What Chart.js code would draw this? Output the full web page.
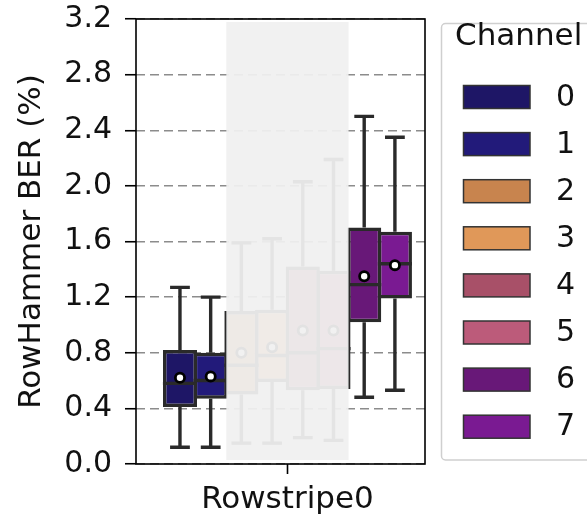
<!DOCTYPE html>
<html lang="en">
<head>
    <meta charset="UTF-8">
    <title>RowHammer BER per Channel</title>
    <script src="https://cdn.jsdelivr.net/npm/chart.js"></script>
    <style>
        body { margin: 0; background: #fff; }
        .chart-wrap { width: 587px; height: 519px; }
    </style>
</head>
<body>
    <div class="chart-wrap">
        <canvas id="berChart" width="587" height="519"></canvas>
    </div>
    <script>
        // values (BER in %)
        const categories = ['Rowstripe0'];
        const channels = ['0', '1', '2', '3', '4', '5', '6', '7'];
        const whiskerLow  = [0.12, 0.12, 0.15, 0.15, 0.19, 0.17, 0.48, 0.53];
        const q1          = [0.41, 0.47, 0.50, 0.59, 0.53, 0.54, 1.02, 1.19];
        const median      = [0.58, 0.60, 0.71, 0.78, 0.80, 0.83, 1.29, 1.44];
        const q3          = [0.82, 0.80, 1.10, 1.11, 1.42, 1.39, 1.70, 1.67];
        const whiskerHigh = [1.27, 1.20, 1.59, 1.62, 2.03, 2.19, 2.50, 2.35];
        const means       = [0.62, 0.63, 0.80, 0.84, 0.96, 0.96, 1.35, 1.43];
        const yTicks = [0, 0.4, 0.8, 1.2, 1.6, 2.0, 2.4, 2.8, 3.2];
        // channels greyed out by the shaded band
        const shadedChannels = ['2', '3', '4', '5'];

        const colors = ['#1e1666', '#221a7a', '#c8844e', '#e09859', '#a85068', '#bc5b7a', '#681878', '#7a1a92'];
        const edge = '#2a2a2a';
        const font = 'DejaVu Sans';

        const datasets = channels.map((ch, i) => ({
            label: ch,
            data: [{ x: 0, y: [q1[i], q3[i]] }],
            backgroundColor: colors[i],
            borderColor: edge,
            borderWidth: 3.5,
            borderSkipped: false,
            categoryPercentage: 0.85,
            barPercentage: 1.11
        }));

        // whiskers, medians, means, shaded band and the axes frame
        const boxExtras = {
            id: 'boxExtras',
            afterDatasetsDraw(chart) {
                const ctx = chart.ctx;
                const y = chart.scales.y;
                const area = chart.chartArea;
                ctx.save();
                channels.forEach((ch, i) => {
                    const bar = chart.getDatasetMeta(i).data[0];
                    const cx = bar.x, w = bar.width, cap = w * 0.29;
                    ctx.strokeStyle = edge;
                    ctx.lineWidth = 3.4;
                    ctx.beginPath();
                    ctx.moveTo(cx, y.getPixelForValue(q3[i]));
                    ctx.lineTo(cx, y.getPixelForValue(whiskerHigh[i]));
                    ctx.moveTo(cx, y.getPixelForValue(q1[i]));
                    ctx.lineTo(cx, y.getPixelForValue(whiskerLow[i]));
                    ctx.moveTo(cx - cap, y.getPixelForValue(whiskerHigh[i]));
                    ctx.lineTo(cx + cap, y.getPixelForValue(whiskerHigh[i]));
                    ctx.moveTo(cx - cap, y.getPixelForValue(whiskerLow[i]));
                    ctx.lineTo(cx + cap, y.getPixelForValue(whiskerLow[i]));
                    ctx.moveTo(cx - w / 2, y.getPixelForValue(median[i]));
                    ctx.lineTo(cx + w / 2, y.getPixelForValue(median[i]));
                    ctx.stroke();

                    ctx.beginPath();
                    ctx.arc(cx, y.getPixelForValue(means[i]), 4.6, 0, Math.PI * 2);
                    ctx.fillStyle = '#fff';
                    ctx.fill();
                    ctx.lineWidth = 2.8;
                    ctx.strokeStyle = '#000';
                    ctx.stroke();
                });

                // grey band over the shaded channels
                const first = chart.getDatasetMeta(channels.indexOf(shadedChannels[0])).data[0];
                const last = chart.getDatasetMeta(channels.indexOf(shadedChannels[shadedChannels.length - 1])).data[0];
                const x0 = first.x - first.width / 2 + 2;
                const x1 = last.x + last.width / 2 - 2;
                ctx.fillStyle = 'rgba(240,240,240,0.94)';
                ctx.fillRect(x0, area.top + 3, x1 - x0, area.bottom - area.top - 7);

                ctx.lineWidth = 1.6;
                ctx.strokeStyle = '#000';
                ctx.strokeRect(area.left, area.top, area.right - area.left, area.bottom - area.top);
                ctx.restore();
            },
            afterDraw(chart) {
                // legend with title and frame, matplotlib style
                const ctx = chart.ctx;
                ctx.save();
                ctx.strokeStyle = '#cfcfcf';
                ctx.lineWidth = 1.5;
                ctx.beginPath();
                ctx.roundRect(441.5, 23.5, 170, 436.5, 4);
                ctx.stroke();
                ctx.fillStyle = '#111';
                ctx.textBaseline = 'middle';
                ctx.font = '31px "' + font + '"';
                ctx.fillText('Channel', 455, 37);
                ctx.font = '30px "' + font + '"';
                chart.data.datasets.forEach((ds, i) => {
                    const cy = 97 + i * 47.1;
                    ctx.fillStyle = ds.backgroundColor;
                    ctx.fillRect(463.5, cy - 11.5, 66.5, 23);
                    ctx.strokeStyle = '#333';
                    ctx.lineWidth = 1.5;
                    ctx.strokeRect(463.5, cy - 11.5, 66.5, 23);
                    ctx.fillStyle = '#111';
                    ctx.fillText(ds.label, 556, cy + 1);
                });
                ctx.restore();
            }
        };

        new Chart(document.getElementById('berChart'), {
            type: 'bar',
            data: { datasets: datasets },
            options: {
                responsive: false,
                animation: false,
                layout: { padding: { left: 0, top: 19, right: 162, bottom: 0 } },
                plugins: { legend: { display: false }, tooltip: { enabled: false } },
                scales: {
                    x: {
                        type: 'linear',
                        offset: false,
                        min: -0.524,
                        max: 0.476,
                        afterBuildTicks: s => { s.ticks = categories.map((c, i) => ({ value: i })); },
                        afterFit: s => { s.height = 55; s.paddingLeft = 0; s.paddingRight = 0; },
                        ticks: {
                            callback: v => categories[v],
                            font: { family: font, size: 31 },
                            color: '#111',
                            padding: 7,
                            maxRotation: 0
                        },
                        grid: { offset: false, drawOnChartArea: false, tickLength: 10, tickColor: '#000', tickWidth: 1.6 },
                        border: { display: false }
                    },
                    y: {
                        min: 0,
                        max: 3.2,
                        afterBuildTicks: s => { s.ticks = yTicks.map(v => ({ value: v })); },
                        afterFit: s => { s.width = 136; s.paddingTop = 0; s.paddingBottom = 0; },
                        ticks: {
                            callback: v => v.toFixed(1),
                            font: { family: font, size: 30 },
                            color: '#111',
                            padding: 13
                        },
                        title: {
                            display: true,
                            text: 'RowHammer BER (%)',
                            font: { family: font, size: 31 },
                            color: '#111',
                            padding: { top: 13, bottom: 0 }
                        },
                        grid: { color: '#8c8c8c', lineWidth: 1.5, tickLength: 11, tickColor: '#000', tickWidth: 1.6 },
                        border: { display: false, dash: [9, 5] }
                    }
                }
            },
            plugins: [boxExtras]
        });
    </script>
</body>
</html>
